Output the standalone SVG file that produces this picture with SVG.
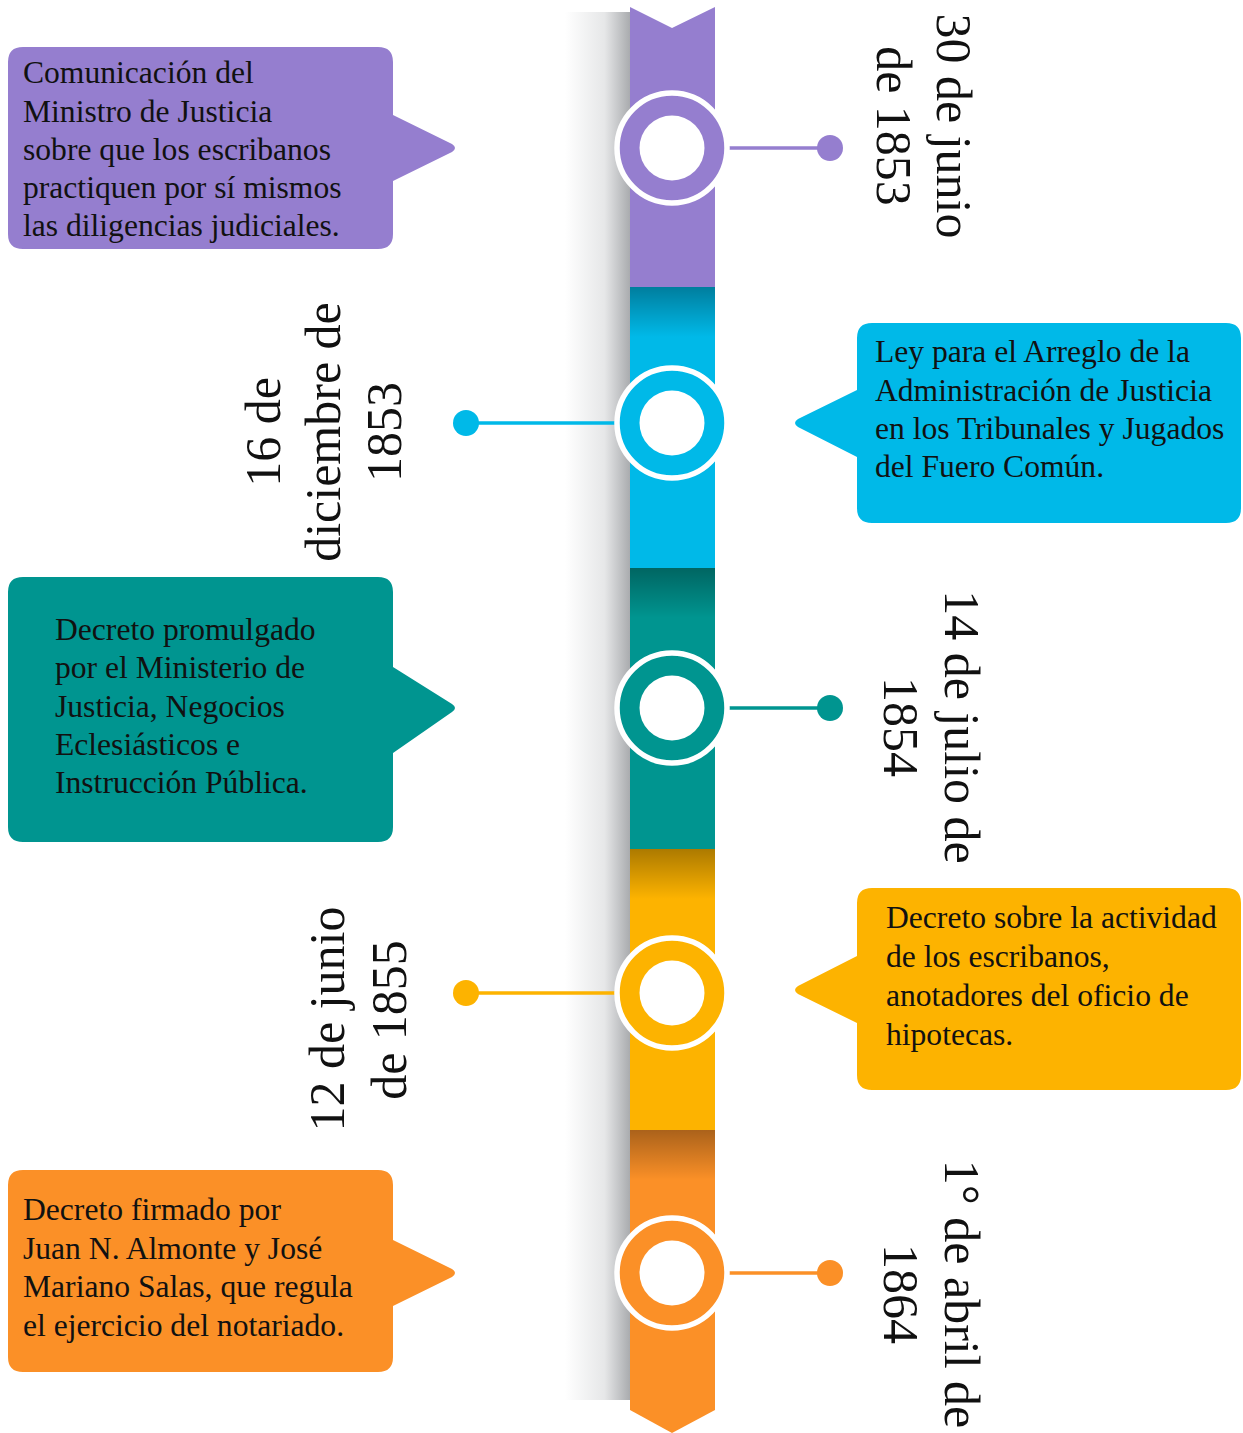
<svg xmlns="http://www.w3.org/2000/svg" width="1243" height="1433" viewBox="0 0 1243 1433">
  <defs>
    <linearGradient id="shadow" x1="0" y1="0" x2="1" y2="0">
      <stop offset="0" stop-color="#ffffff"/>
      <stop offset="0.6" stop-color="#e6e7e8"/>
      <stop offset="1" stop-color="#a7a9ac"/>
    </linearGradient>
    <linearGradient id="segShade" x1="0" y1="0" x2="0" y2="1">
      <stop offset="0" stop-color="#000000" stop-opacity="0.32"/>
      <stop offset="1" stop-color="#000000" stop-opacity="0"/>
    </linearGradient>
    <style>
      .box-text { font-family: "Liberation Serif", "Times New Roman", serif; font-size: 31.6px; fill: #111111; }
      .date { font-family: "Liberation Serif", "Times New Roman", serif; font-size: 50px; fill: #111111; text-anchor: middle; }
      .ring-white { fill: #ffffff; }
      .conn { stroke-width: 3.5; fill: none; }
    </style>
  </defs>

  <!-- shadow behind the timeline bar -->
  <rect x="565" y="12" width="66" height="1388" fill="url(#shadow)"/>

  <!-- timeline bar segments -->
  <g id="timeline-bar">
    <path d="M630 7 L672 28 L715 7 V288 H630 Z" fill="#957ecf"/>
    <rect x="630" y="287" width="85" height="282" fill="#00b9e8"/>
    <rect x="630" y="287" width="85" height="50" fill="url(#segShade)"/>
    <rect x="630" y="568" width="85" height="282" fill="#009590"/>
    <rect x="630" y="568" width="85" height="50" fill="url(#segShade)"/>
    <rect x="630" y="849" width="85" height="282" fill="#fdb300"/>
    <rect x="630" y="849" width="85" height="50" fill="url(#segShade)"/>
    <path d="M630 1130 H715 V1410 L672 1433 L630 1410 Z" fill="#fb9027"/>
    <rect x="630" y="1130" width="85" height="50" fill="url(#segShade)"/>
  </g>

  <!-- connectors -->
  <g id="connectors">
    <line class="conn" x1="725" y1="148" x2="830" y2="148" stroke="#957ecf"/>
    <line class="conn" x1="466" y1="423" x2="620" y2="423" stroke="#00b9e8"/>
    <line class="conn" x1="725" y1="708" x2="830" y2="708" stroke="#009590"/>
    <line class="conn" x1="466" y1="993" x2="620" y2="993" stroke="#fdb300"/>
    <line class="conn" x1="725" y1="1273" x2="830" y2="1273" stroke="#fb9027"/>
    <circle cx="830" cy="148" r="13" fill="#957ecf"/>
    <circle cx="466" cy="423" r="13" fill="#00b9e8"/>
    <circle cx="830" cy="708" r="13" fill="#009590"/>
    <circle cx="466" cy="993" r="13" fill="#fdb300"/>
    <circle cx="830" cy="1273" r="13" fill="#fb9027"/>
  </g>

  <!-- event 1 -->
  <g id="event-1">
    <circle cx="672" cy="148" r="55" fill="#957ecf" stroke="#ffffff" stroke-width="5.5"/>
    <circle cx="672" cy="148" r="32.5" class="ring-white"/>
    <path d="M23 47 H378 Q393 47 393 62 V115 L452 144 Q458 148 452 152 L393 181 V234 Q393 249 378 249 H23 Q8 249 8 234 V62 Q8 47 23 47 Z" fill="#957ecf"/>
    <text class="box-text">
      <tspan x="23" y="83">Comunicación del</tspan>
      <tspan x="23" y="122">Ministro de Justicia</tspan>
      <tspan x="23" y="160">sobre que los escribanos</tspan>
      <tspan x="23" y="198">practiquen por sí mismos</tspan>
      <tspan x="23" y="236">las diligencias judiciales.</tspan>
    </text>
    <text class="date" transform="translate(937,126) rotate(90)">30 de junio</text>
    <text class="date" transform="translate(877,126) rotate(90)">de 1853</text>
  </g>

  <!-- event 2 -->
  <g id="event-2">
    <circle cx="672" cy="423" r="55" fill="#00b9e8" stroke="#ffffff" stroke-width="5.5"/>
    <circle cx="672" cy="423" r="32.5" class="ring-white"/>
    <path d="M872 323 H1226 Q1241 323 1241 338 V508 Q1241 523 1226 523 H872 Q857 523 857 508 V457 L798 427 Q792 423 798 419 L857 390 V338 Q857 323 872 323 Z" fill="#00b9e8"/>
    <text class="box-text">
      <tspan x="875" y="362">Ley para el Arreglo de la</tspan>
      <tspan x="875" y="401">Administración de Justicia</tspan>
      <tspan x="875" y="439">en los Tribunales y Jugados</tspan>
      <tspan x="875" y="477">del Fuero Común.</tspan>
    </text>
    <text class="date" transform="translate(280,432) rotate(-90)">16 de</text>
    <text class="date" transform="translate(340,432) rotate(-90)">diciembre de</text>
    <text class="date" transform="translate(401,432) rotate(-90)">1853</text>
  </g>

  <!-- event 3 -->
  <g id="event-3">
    <circle cx="672" cy="708" r="55" fill="#009590" stroke="#ffffff" stroke-width="5.5"/>
    <circle cx="672" cy="708" r="32.5" class="ring-white"/>
    <path d="M23 577 H378 Q393 577 393 592 V667 L452 704 Q458 708 452 712 L393 753 V827 Q393 842 378 842 H23 Q8 842 8 827 V592 Q8 577 23 577 Z" fill="#009590"/>
    <text class="box-text">
      <tspan x="55" y="640">Decreto promulgado</tspan>
      <tspan x="55" y="678">por el Ministerio de</tspan>
      <tspan x="55" y="717">Justicia, Negocios</tspan>
      <tspan x="55" y="755">Eclesiásticos e</tspan>
      <tspan x="55" y="793">Instrucción Pública.</tspan>
    </text>
    <text class="date" transform="translate(945,727) rotate(90)">14 de julio de</text>
    <text class="date" transform="translate(884,727) rotate(90)">1854</text>
  </g>

  <!-- event 4 -->
  <g id="event-4">
    <circle cx="672" cy="993" r="55" fill="#fdb300" stroke="#ffffff" stroke-width="5.5"/>
    <circle cx="672" cy="993" r="32.5" class="ring-white"/>
    <path d="M872 888 H1226 Q1241 888 1241 903 V1075 Q1241 1090 1226 1090 H872 Q857 1090 857 1075 V1023 L798 994 Q792 990 798 986 L857 956 V903 Q857 888 872 888 Z" fill="#fdb300"/>
    <text class="box-text">
      <tspan x="886" y="928">Decreto sobre la actividad</tspan>
      <tspan x="886" y="967">de los escribanos,</tspan>
      <tspan x="886" y="1006">anotadores del oficio de</tspan>
      <tspan x="886" y="1045">hipotecas.</tspan>
    </text>
    <text class="date" transform="translate(344,1019) rotate(-90)">12 de junio</text>
    <text class="date" transform="translate(406,1020) rotate(-90)">de 1855</text>
  </g>

  <!-- event 5 -->
  <g id="event-5">
    <circle cx="672" cy="1273" r="55" fill="#fb9027" stroke="#ffffff" stroke-width="5.5"/>
    <circle cx="672" cy="1273" r="32.5" class="ring-white"/>
    <path d="M23 1170 H378 Q393 1170 393 1185 V1240 L452 1269 Q458 1273 452 1277 L393 1306 V1357 Q393 1372 378 1372 H23 Q8 1372 8 1357 V1185 Q8 1170 23 1170 Z" fill="#fb9027"/>
    <text class="box-text">
      <tspan x="23" y="1220">Decreto firmado por</tspan>
      <tspan x="23" y="1259">Juan N. Almonte y José</tspan>
      <tspan x="23" y="1297">Mariano Salas, que regula</tspan>
      <tspan x="23" y="1336">el ejercicio del notariado.</tspan>
    </text>
    <text class="date" transform="translate(945,1294) rotate(90)">1° de abril de</text>
    <text class="date" transform="translate(884,1294) rotate(90)">1864</text>
  </g>
</svg>
